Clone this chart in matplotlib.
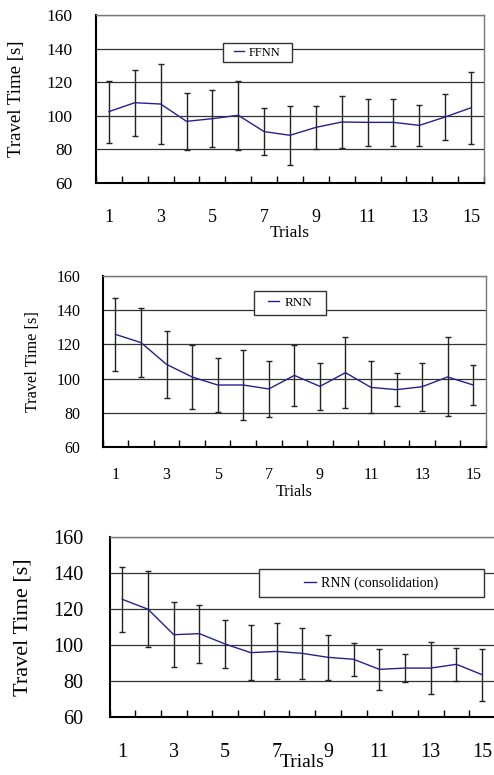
import numpy as np
import matplotlib
matplotlib.use("Agg")
import matplotlib.pyplot as plt
from matplotlib.patches import Rectangle
from matplotlib.ticker import FixedLocator

plt.rcParams['font.family'] = ['Liberation Serif', 'DejaVu Serif']

trials = list(range(1, 16))
tick_trials = [1, 3, 5, 7, 9, 11, 13, 15]
y_ticks = [60, 80, 100, 120, 140, 160]

# FFNN
ffnn_mean = [102.5, 107.8, 107.0, 96.7, 98.3, 100.3, 90.6, 88.4, 93.1, 96.3, 96.1, 96.1, 94.3, 99.3, 104.8]
ffnn_sd = [18.4, 19.7, 23.9, 17.0, 16.9, 20.7, 14.0, 17.4, 12.7, 15.3, 13.8, 14.1, 12.1, 13.9, 21.5]

# RNN
rnn_mean = [125.8, 121.0, 108.3, 101.0, 96.3, 96.3, 94.0, 101.9, 95.5, 103.5, 94.9, 93.6, 95.3, 101.0, 96.3]
rnn_sd = [21.3, 20.0, 19.4, 18.4, 15.9, 20.4, 16.1, 17.7, 13.7, 20.7, 15.2, 9.8, 13.9, 23.0, 11.4]

# RNN with consolidation
cons_mean = [125.4, 119.9, 105.7, 106.3, 100.5, 95.7, 96.4, 95.3, 93.1, 92.0, 86.4, 87.1, 87.1, 89.2, 83.4]
cons_sd = [18.0, 21.2, 18.2, 16.2, 13.4, 15.3, 15.6, 14.3, 12.4, 9.2, 11.6, 7.9, 14.4, 9.2, 14.4]

series = [
    ("FFNN", ffnn_mean, ffnn_sd),
    ("RNN", rnn_mean, rnn_sd),
    ("RNN (consolidation)", cons_mean, cons_sd),
]

# layout per panel (pixels in a 494x775 figure), font sizes, legend box in axes fraction
W, H = 494, 775
layout = [
    dict(box=(96, 15, 484, 183), ytick=12.5, xtick=13, ylab=13.5, xlab=12.5, leg=9,
         ypad=17, xpad=19, ylab_x=-0.204, xlab_y=-0.30,
         leg_box=(0.327, 0.720, 0.178, 0.113)),
    dict(box=(102.7, 275.7, 486, 447.3), ytick=11.5, xtick=11.5, ylab=11.7, xlab=11.5, leg=9.5,
         ypad=16, xpad=14, ylab_x=-0.182, xlab_y=-0.26,
         leg_box=(0.395, 0.771, 0.188, 0.140)),
    dict(box=(109.5, 537.3, 495, 716.7), ytick=14.5, xtick=14.5, ylab=16, xlab=14, leg=10,
         ypad=19, xpad=19, ylab_x=-0.225, xlab_y=-0.258,
         leg_box=(0.388, 0.667, 0.583, 0.156)),
]

fig = plt.figure(figsize=(W / 100, H / 100), dpi=100)

for (name, mean, sd), lay in zip(series, layout):
    x0, top, x1, bottom = lay['box']
    ax = fig.add_axes([x0 / W, (H - bottom) / H, (x1 - x0) / W, (bottom - top) / H])

    ax.errorbar(trials, mean, yerr=sd, fmt='none', ecolor='#222222',
                elinewidth=1.0, capsize=2.5, capthick=1.0, zorder=3)
    ax.plot(trials, mean, color='#22228f', lw=1.0, label=name, zorder=4)

    ax.set_xlim(0.5, 15.5)
    ax.set_ylim(60, 160)
    ax.set_yticks(y_ticks)
    ax.set_xticks(tick_trials)
    ax.xaxis.set_minor_locator(FixedLocator(np.arange(0.5, 16, 1.0)))
    ax.tick_params(axis='x', which='major', length=0, pad=lay['xpad'], labelsize=lay['xtick'])
    ax.tick_params(axis='x', which='minor', direction='in', length=5, width=1.0, color='black')
    ax.tick_params(axis='y', length=0, pad=lay['ypad'], labelsize=lay['ytick'])
    ax.yaxis.grid(True, color='#333333', lw=0.9)
    ax.set_axisbelow(True)

    for s in ['left', 'bottom']:
        ax.spines[s].set_color('black')
        ax.spines[s].set_linewidth(1.5)
    for s in ['top', 'right']:
        ax.spines[s].set_color('#777777')
        ax.spines[s].set_linewidth(1.0)

    ax.set_ylabel("Travel Time [s]", fontsize=lay['ylab'])
    ax.yaxis.set_label_coords(lay['ylab_x'], 0.5)
    ax.yaxis.label.set_verticalalignment('center')
    ax.set_xlabel("Trials", fontsize=lay['xlab'])
    ax.xaxis.set_label_coords(0.5, lay['xlab_y'])
    ax.xaxis.label.set_verticalalignment('center')

    # legend frame drawn as a box, legend entry centred inside it
    bx, by, bw, bh = lay['leg_box']
    ax.add_patch(Rectangle((bx, by), bw, bh, transform=ax.transAxes, facecolor='white',
                           edgecolor='#333333', lw=1.0, zorder=5))
    leg = ax.legend(loc='center', bbox_to_anchor=(bx + bw / 2, by + bh / 2), fontsize=lay['leg'],
                    handlelength=0.8, handletextpad=0.4, borderpad=0.2, frameon=False)
    leg.set_zorder(6)

fig.savefig("out.png", dpi=100)
